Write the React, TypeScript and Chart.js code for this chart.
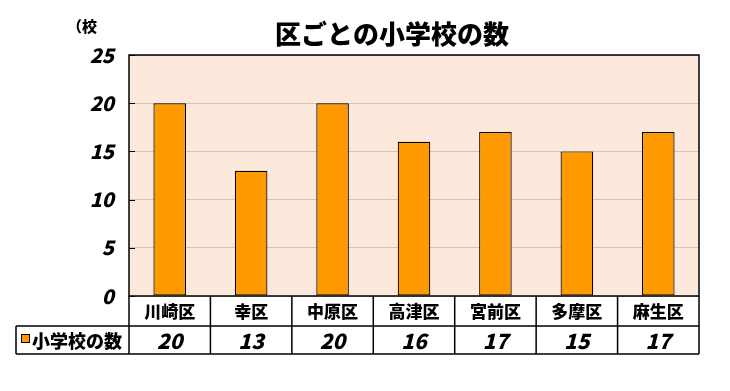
import React, { useEffect, useRef } from "react";
import { Chart, registerables } from "chart.js";

Chart.register(...registerables);

const TITLE = "区ごとの小学校の数";
const UNIT = "（校";
const SERIES_NAME = "小学校の数";
const categories = ["川崎区", "幸区", "中原区", "高津区", "宮前区", "多摩区", "麻生区"];
const schoolCounts = [20, 13, 20, 16, 17, 15, 17];
const yTicks = [0, 5, 10, 15, 20, 25];

const JP = "'Noto Sans CJK JP', 'Noto Sans', sans-serif";
const BAR_COLOR = "#FF9900";
const PLOT_BG = "#FCE9DB";
const GRID_COLOR = "#D6C2B6";

const decorPlugin = {
  id: "decor",
  beforeDraw(chart: any) {
    const { ctx, chartArea: a } = chart;
    ctx.save();
    ctx.fillStyle = "#ffffff";
    ctx.fillRect(0, 0, chart.width, chart.height);
    ctx.fillStyle = PLOT_BG;
    ctx.fillRect(a.left, a.top, a.right - a.left, a.bottom - a.top);
    ctx.restore();
  },
  afterDraw(chart: any) {
    const { ctx, chartArea: a, scales } = chart;
    const y = scales.y;
    const n = categories.length;
    const colW = (a.right - a.left) / n;
    ctx.save();
    // plot border
    ctx.strokeStyle = "#000";
    ctx.lineWidth = 1.5;
    ctx.strokeRect(a.left, a.top, a.right - a.left, a.bottom - a.top);
    // inner tick marks
    ctx.lineWidth = 1;
    ctx.beginPath();
    yTicks.forEach((v) => {
      const py = Math.round(y.getPixelForValue(v)) + 0.5;
      ctx.moveTo(a.left, py);
      ctx.lineTo(a.left + 6, py);
    });
    ctx.stroke();

    // table
    const row1Top = a.bottom;
    const row1Bot = a.bottom + 30;
    const row2Bot = a.bottom + 58;
    const tableLeft = 16;
    ctx.lineWidth = 1.5;
    ctx.beginPath();
    ctx.moveTo(tableLeft, row1Bot);
    ctx.lineTo(a.right, row1Bot);
    ctx.moveTo(tableLeft, row2Bot);
    ctx.lineTo(a.right, row2Bot);
    ctx.moveTo(tableLeft, row1Bot);
    ctx.lineTo(tableLeft, row2Bot);
    for (let i = 0; i <= n; i++) {
      const px = a.left + i * colW;
      ctx.moveTo(px, row1Top);
      ctx.lineTo(px, row2Bot);
    }
    ctx.stroke();

    ctx.fillStyle = "#000";
    ctx.textAlign = "center";
    ctx.textBaseline = "middle";
    categories.forEach((c, i) => {
      const cx = a.left + (i + 0.5) * colW;
      ctx.font = `900 17px ${JP}`;
      ctx.fillText(c, cx, (row1Top + row1Bot) / 2 + 1);
      ctx.font = `italic 900 21px ${JP}`;
      ctx.fillText(String(schoolCounts[i]), cx, (row1Bot + row2Bot) / 2 + 1);
    });

    // legend key in table
    ctx.fillStyle = BAR_COLOR;
    ctx.fillRect(21, 334, 8, 8);
    ctx.lineWidth = 1;
    ctx.strokeStyle = "#000";
    ctx.strokeRect(21.5, 334.5, 8, 8);
    ctx.fillStyle = "#000";
    ctx.textAlign = "left";
    ctx.font = `900 18px ${JP}`;
    ctx.fillText(SERIES_NAME, 32, (row1Bot + row2Bot) / 2 + 1);

    // title
    ctx.textAlign = "center";
    ctx.font = `900 26px ${JP}`;
    ctx.fillText(TITLE, 392, 34);

    // unit
    ctx.textAlign = "left";
    ctx.font = `900 15px ${JP}`;
    ctx.fillText(UNIT, 67, 26);
    ctx.restore();
  },
};

export default function App() {
  const ref = useRef<HTMLCanvasElement | null>(null);
  useEffect(() => {
    if (!ref.current) return;
    const chart = new Chart(ref.current, {
      type: "bar",
      data: {
        labels: categories,
        datasets: [
          {
            label: SERIES_NAME,
            data: schoolCounts,
            backgroundColor: BAR_COLOR,
            borderColor: "#000",
            borderWidth: 1.2,
            borderSkipped: false,
            barPercentage: 0.4,
            categoryPercentage: 1,
          },
        ],
      },
      options: {
        responsive: false,
        animation: false,
        layout: { padding: { left: 0, right: 31, top: 55, bottom: 95 } },
        plugins: {
          legend: { display: false },
          title: { display: false },
          tooltip: { enabled: false },
        },
        scales: {
          x: { display: false, offset: true },
          y: {
            min: 0,
            max: 25,
            afterFit: (s: any) => {
              s.width = 129;
            },
            afterBuildTicks: (s: any) => {
              s.ticks = yTicks.map((v) => ({ value: v }));
            },
            border: { display: false },
            grid: { color: GRID_COLOR, lineWidth: 1, drawTicks: false },
            ticks: {
              padding: 15,
              color: "#000",
              font: { family: JP, size: 20, weight: "900", style: "italic" },
            },
          },
        },
      },
      plugins: [decorPlugin],
    });
    return () => chart.destroy();
  }, []);
  return (
    <div style={{ position: "fixed", left: 0, top: 0, width: 730, height: 391, background: "#fff" }}>
      <canvas ref={ref} width={730} height={391} style={{ display: "block" }} />
    </div>
  );
}
